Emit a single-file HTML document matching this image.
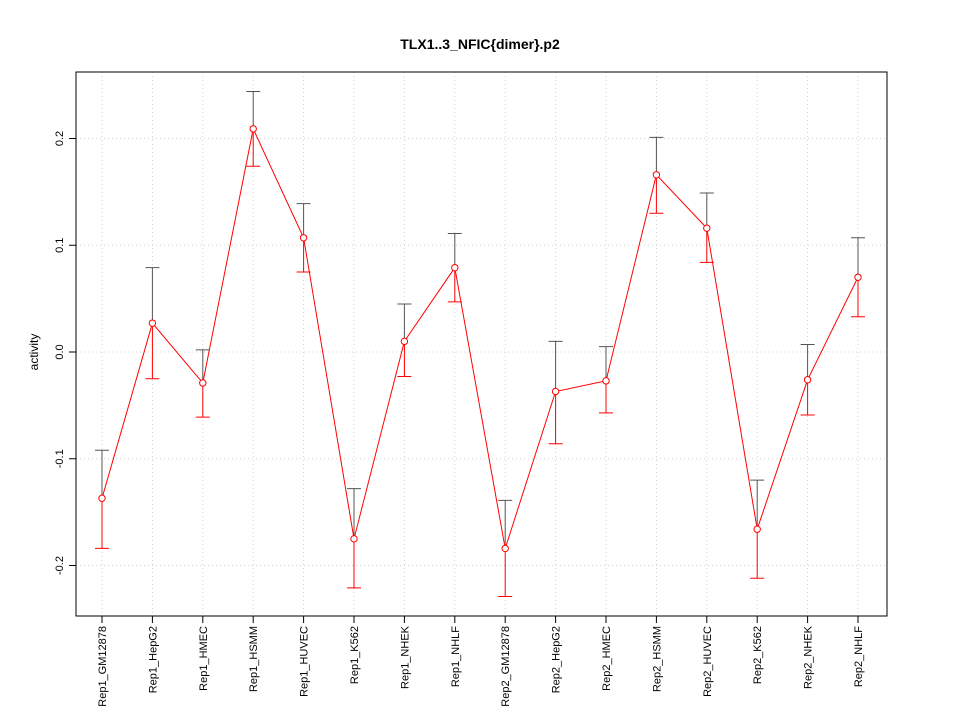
<!DOCTYPE html>
<html><head><meta charset="utf-8"><style>body{margin:0;background:#fff}svg{display:block;font-family:"Liberation Sans",sans-serif}</style></head>
<body>
<svg id="chart" width="960" height="720" viewBox="0 0 960 720">
<text x="480" y="49" text-anchor="middle" font-size="14" font-weight="bold">TLX1..3_NFIC{dimer}.p2</text>
<text transform="translate(38,352) rotate(-90)" text-anchor="middle" font-size="12">activity</text>
<g id="grid"></g><g id="axes"></g><g id="marks"></g>
</svg>
<script>
const categories=["Rep1_GM12878","Rep1_HepG2","Rep1_HMEC","Rep1_HSMM","Rep1_HUVEC","Rep1_K562","Rep1_NHEK","Rep1_NHLF","Rep2_GM12878","Rep2_HepG2","Rep2_HMEC","Rep2_HSMM","Rep2_HUVEC","Rep2_K562","Rep2_NHEK","Rep2_NHLF"];
const values=[-0.137,0.027,-0.029,0.209,0.107,-0.175,0.010,0.079,-0.184,-0.037,-0.027,0.166,0.116,-0.166,-0.026,0.070];
const upper=[-0.092,0.079,0.002,0.244,0.139,-0.128,0.045,0.111,-0.139,0.010,0.005,0.201,0.149,-0.120,0.007,0.107];
const lower=[-0.184,-0.025,-0.061,0.174,0.075,-0.221,-0.023,0.047,-0.229,-0.086,-0.057,0.130,0.084,-0.212,-0.059,0.033];
const yTicks=[-0.2,-0.1,0.0,0.1,0.2];
const yTickLabels=["-0.2","-0.1","0.0","0.1","0.2"];
const NS="http://www.w3.org/2000/svg";
const L=76,R=887,T=72,B=616;
const x=i=>102+i*(858-102)/(categories.length-1);
const y=v=>352-v*1067.5;
function mk(p,tag,a){const e=document.createElementNS(NS,tag);for(const k in a)e.setAttribute(k,a[k]);p.appendChild(e);return e;}
const grid=document.getElementById('grid'),axes=document.getElementById('axes'),marks=document.getElementById('marks');
categories.forEach((c,i)=>{
 const g=mk(grid,'line',{x1:x(i),x2:x(i),y1:T,y2:B,stroke:'#d3d3d3','stroke-dasharray':'1,3'});
 
 
 const t=mk(axes,'line',{x1:x(i),x2:x(i),y1:B,y2:B+7,stroke:'#000'});
 
 
 const lb=mk(axes,'text',{transform:`translate(${x(i)+4},626) rotate(-90)`,'text-anchor':'end','font-size':'11'});
 lb.textContent=c;
 
 
});
yTicks.forEach((v,i)=>{
 const g=mk(grid,'line',{x1:L,x2:R,y1:y(v),y2:y(v),stroke:'#d3d3d3','stroke-dasharray':'1,3'});
 
 
 const t=mk(axes,'line',{x1:L-7,x2:L,y1:y(v),y2:y(v),stroke:'#000'});
 
 
 const lb=mk(axes,'text',{transform:`translate(${L-13},${y(v)}) rotate(-90)`,'text-anchor':'middle','font-size':'11'});
 lb.textContent=yTickLabels[i];
 
 
});
const frame=mk(axes,'rect',{x:L,y:T,width:R-L,height:B-T,fill:'none',stroke:'#000'});


const line=mk(marks,'polyline',{points:values.map((v,i)=>x(i)+','+y(v)).join(' '),fill:'none',stroke:'#ff0000'});


values.forEach((v,i)=>{
 const xi=x(i);
 const up=mk(marks,'path',{d:`M${xi},${y(v)}V${y(upper[i])}M${xi-7},${y(upper[i])}H${xi+7}`,stroke:'#555',fill:'none'});
 
 
 const lo=mk(marks,'path',{d:`M${xi},${y(v)}V${y(lower[i])}M${xi-7},${y(lower[i])}H${xi+7}`,stroke:'#ff0000',fill:'none'});
 
 
 const p=mk(marks,'circle',{cx:xi,cy:y(v),r:3.2,fill:'#fff',stroke:'#ff0000'});
 
 
});
</script>
</body></html>
